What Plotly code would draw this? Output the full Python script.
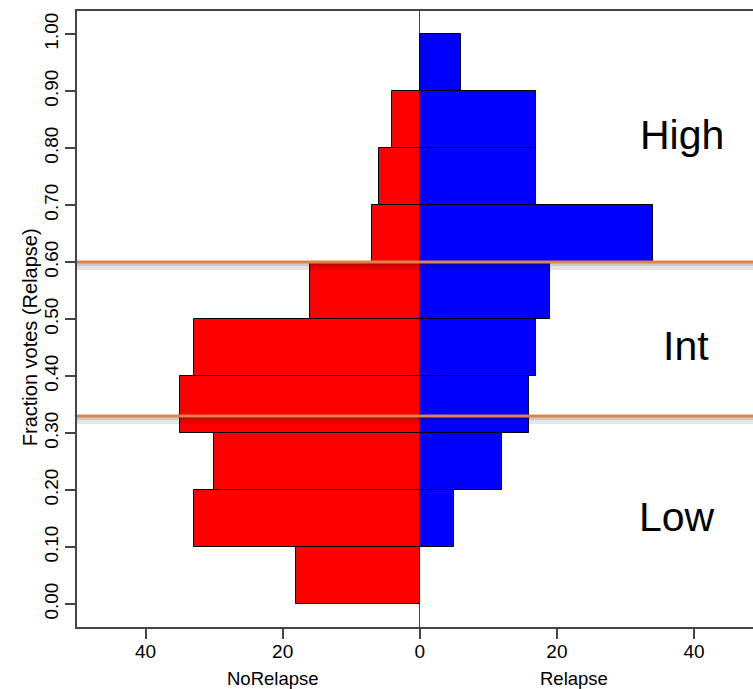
import plotly.graph_objects as go

# Bin centres of "Fraction votes (Relapse)" (bin width 0.1)
bin_centers = [0.05, 0.15, 0.25, 0.35, 0.45, 0.55, 0.65, 0.75, 0.85, 0.95]
norelapse_counts = [18, 33, 30, 35, 33, 16, 7, 6, 4, 0]
relapse_counts = [0, 5, 12, 16, 17, 19, 34, 17, 17, 6]

y_tick_vals = [0.0, 0.1, 0.2, 0.3, 0.4, 0.5, 0.6, 0.7, 0.8, 0.9, 1.0]
y_tick_text = ["0.00", "0.10", "0.20", "0.30", "0.40", "0.50", "0.60", "0.70", "0.80", "0.90", "1.00"]
x_tick_vals = [-40, -20, 0, 20, 40]
x_tick_text = ["40", "20", "0", "20", "40"]

cutoffs = [0.6, 0.33]
group_labels = ["High", "Int", "Low"]
group_label_x = [38.2, 38.8, 37.5]
group_label_y = [0.823, 0.453, 0.153]

FONT = "Liberation Sans, Arial, Helvetica, sans-serif"
AXC = "#444444"

fig = go.Figure()
fig.add_trace(go.Bar(
    y=bin_centers, x=[-c for c in norelapse_counts], base=0, orientation="h",
    width=0.1, marker=dict(color="#FF0000", line=dict(color="black", width=1)),
    name="NoRelapse", showlegend=False,
))
fig.add_trace(go.Bar(
    y=bin_centers, x=relapse_counts, base=0, orientation="h",
    width=0.1, marker=dict(color="#0000FF", line=dict(color="black", width=1)),
    name="Relapse", showlegend=False,
))

shapes = []
for yv in cutoffs:
    shapes.append(dict(type="rect", xref="paper", x0=0, x1=1, yref="y", ysizemode="pixel",
                       yanchor=yv, y0=-1, y1=-8, fillcolor="rgba(0,0,0,0.10)",
                       line=dict(width=0), layer="above"))
    shapes.append(dict(type="rect", xref="paper", x0=0, x1=1, yref="y", ysizemode="pixel",
                       yanchor=yv, y0=-1, y1=-4, fillcolor="rgba(0,0,0,0.12)",
                       line=dict(width=0), layer="above"))
    shapes.append(dict(type="line", xref="paper", x0=0, x1=1, yref="y", y0=yv, y1=yv,
                       line=dict(color="#E0834A", width=3), layer="above"))

annotations = []
for t, xv, yv in zip(group_labels, group_label_x, group_label_y):
    annotations.append(dict(text=t, x=xv, y=yv, xref="x", yref="y", showarrow=False,
                            font=dict(size=41, color="black", family=FONT),
                            xanchor="center", yanchor="middle"))
annotations.append(dict(text="NoRelapse", x=-21.4, y=0, xref="x", yref="paper", yshift=-51,
                        showarrow=False, font=dict(size=18.5, color="black", family=FONT),
                        xanchor="center", yanchor="middle"))
annotations.append(dict(text="Relapse", x=22.5, y=0, xref="x", yref="paper", yshift=-51,
                        showarrow=False, font=dict(size=18.5, color="black", family=FONT),
                        xanchor="center", yanchor="middle"))
annotations.append(dict(text="Fraction votes (Relapse)", x=0, y=0.468, xref="paper", yref="y",
                        xshift=-47, textangle=-90, showarrow=False,
                        font=dict(size=20, color="black", family=FONT),
                        xanchor="center", yanchor="middle"))

fig.update_layout(
    width=753, height=689,
    margin=dict(l=77, r=0, t=11, b=62),
    paper_bgcolor="white", plot_bgcolor="white",
    barmode="overlay", bargap=0,
    font=dict(family=FONT, color="black", size=19),
    shapes=shapes, annotations=annotations,
    xaxis=dict(range=[-50, 48.6], tickvals=x_tick_vals, ticktext=x_tick_text,
               ticks="outside", ticklen=10, tickcolor=AXC, tickwidth=1.5,
               showline=True, linecolor=AXC, linewidth=1.5, mirror=True,
               showgrid=False, zeroline=True, zerolinecolor=AXC, zerolinewidth=1,
               tickfont=dict(size=19), automargin=False, ticklabelstandoff=-4),
    yaxis=dict(range=[-0.0404, 1.0404], tickvals=y_tick_vals, ticktext=y_tick_text,
               ticks="outside", ticklen=10, tickcolor=AXC, tickwidth=1.5,
               showline=True, linecolor=AXC, linewidth=1.5,
               showgrid=False, zeroline=False, tickangle=-90,
               tickfont=dict(size=19), automargin=False),
)

fig.write_html("out.html", config={"displayModeBar": False},
               post_script="document.body.style.margin='0px';")
